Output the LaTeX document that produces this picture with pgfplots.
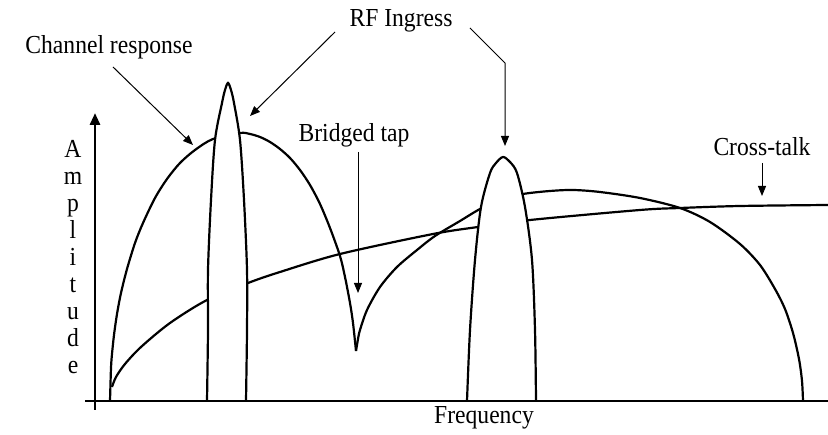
\documentclass[border=0pt]{standalone}
\usepackage{pgfplots}
\pgfplotsset{compat=1.18}
\usetikzlibrary{arrows.meta}
\usepackage{fontspec}
\setmainfont{Liberation Serif}

\begin{document}
\begin{tikzpicture}[font=\fontsize{23.6bp}{28bp}\selectfont,
    lbl/.style={yscale=1.1},
    ann/.style={line width=1bp, -{Triangle[length=10bp,width=8bp]}}]
\begin{axis}[
    name=ax,
    x=1bp, y=1bp,
    xmin=0, xmax=828,
    ymin=-34, ymax=401,
    hide axis,
    clip=false,
    every axis plot/.append style={line width=2.2bp, black}]

% channel response, up to the bridged tap notch
\addplot[smooth] coordinates {
    (110,0) (111,33) (112,47) (114,66) (117,87) (121,108) (127,132)
    (135,158) (143,178) (155,203) (167,222) (180,238) (195,251) (213,262)
    (240,268) (250,267) (260,264) (270,259) (280,252) (290,243) (300,231)
    (310,216) (320,197) (330,173) (340,145) (345,124) (350,98) (353,78)
    (356,50)
};
% channel response, after the notch
\addplot[smooth] coordinates {
    (356,50) (358,62) (360,71) (367,91) (380,114) (397,134) (417,151)
    (435,165) (460,180) (480,192) (500,201) (523,207) (550,210) (573,211)
    (600,209) (640,203) (680,193) (710,179) (740,157) (760,136) (775,112)
    (785,92) (793,68) (799,42) (802,20) (803,0)
};
% cross-talk
\addplot[smooth] coordinates {
    (112,14) (116,24) (125,37) (141,54) (170,78) (207,101) (248,118)
    (280,129) (340,147) (433,167) (478,174) (530,181) (640,191) (680,193)
    (740,195) (828,196)
};
% RF ingress peaks
\addplot[smooth, fill=white] coordinates {
    (207,0) (208,71) (208,131) (211,201) (215,261) (222,298) (225,311)
    (228,318) (231,311) (234,298) (240,261) (244,201) (247,131) (247,71) (246,0)
};
\addplot[smooth, fill=white] coordinates {
    (467,0) (470,71) (475,141) (481,194) (490,228) (496,238) (503,244)
    (510,239) (517,228) (525,194) (532,141) (535,71) (536,0)
};

% axes
\draw[line width=2.8bp] (axis cs:85,0) -- (axis cs:828,0);
\draw[line width=2.8bp, -{Triangle[length=12bp,width=10bp]}]
    (axis cs:95,-9) -- (axis cs:95,288);
\node[lbl] at (axis cs:484,-17) {Frequency};
\node[lbl, align=center, font=\fontsize{23.6bp}{24.5bp}\selectfont]
    at (axis cs:73,144) {A\\m\\p\\l\\i\\t\\u\\d\\e};

% annotations
\node[lbl] at (axis cs:109,354) {Channel response};
\draw[ann] (axis cs:113,334) -- (axis cs:193,256);
\node[lbl] at (axis cs:401,380) {RF Ingress};
\draw[ann] (axis cs:335,369) -- (axis cs:250,285);
\draw[ann] (axis cs:470,373) -- (axis cs:505,338) -- (axis cs:505,255);
\node[lbl] at (axis cs:354,266) {Bridged tap};
\draw[ann] (axis cs:358,249) -- (axis cs:358,108);
\node[lbl] at (axis cs:762,254) {Cross-talk};
\draw[ann] (axis cs:762,238) -- (axis cs:762,205);
\end{axis}
\pgfresetboundingbox
\path (ax.south west) rectangle (ax.north east);
\end{tikzpicture}
\end{document}
